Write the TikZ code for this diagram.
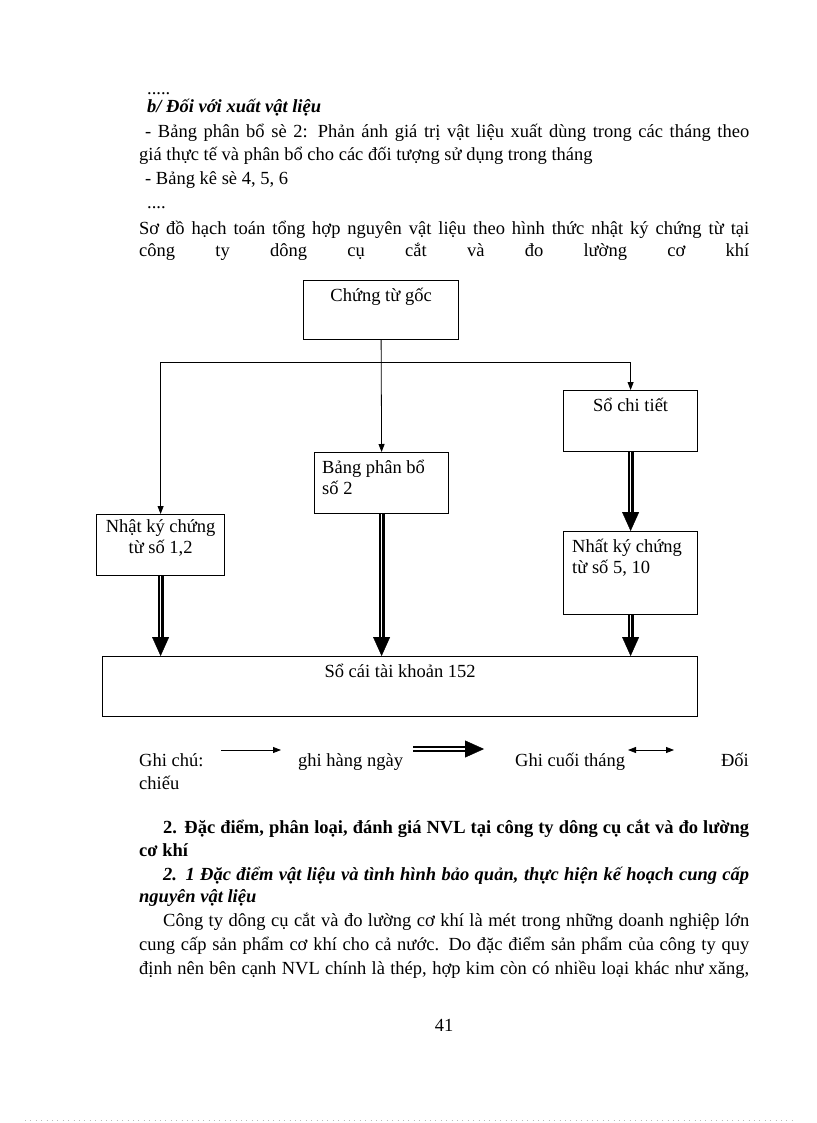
\documentclass[tikz,border=0pt]{standalone}
\usepackage{fontspec}
\setmainfont{Liberation Serif}
\usetikzlibrary{arrows.meta}
\newcommand\jl[2]{\hbox to #1pt{\spaceskip=.25em plus 1fil minus .12em #2}}
\newcommand\thickarrow[2]{%
  \draw[shaft] (#1) -- (#2);
  \draw[headonly] (#1) -- (#2);}
\begin{document}
\begin{tikzpicture}[x=1pt,y=-1pt,
  every node/.style={font=\fontsize{18.5}{21}\selectfont, inner sep=0pt},
  txt/.style={anchor=west, text height=13pt, text depth=4pt},
  box/.style={draw, line width=1.2pt, anchor=north west},
  boxtext/.style={align=left},
  thinarr/.style={line width=0.8pt, -{Triangle[length=8pt,width=6pt]}},
  bothhead/.style={line width=0.8pt, {Triangle[length=8pt,width=6pt]}-{Triangle[length=8pt,width=6pt]}},
  shaft/.style={line width=2.3pt, double distance=1.5pt, shorten >=18pt},
  headonly/.style={draw=white, line width=0.4pt, -{Triangle[length=19pt,width=17pt,color=black,fill=black]}}
]
\useasboundingbox (0,0) rectangle (816,1123);
\fill[white] (0,0) rectangle (816,1123);

% ---------- top text ----------
\node[txt] (t1) at (147,90) {.....};
\node[txt] (t2) at (147,108) {\bfseries\itshape b/ Đối với xuất vật liệu};
\node[txt] (t3) at (145,133) {\jl{604}{- Bảng phân bổ sè 2: Phản ánh giá trị vật liệu xuất dùng trong các tháng theo}};
\node[txt] (t4) at (139,156) {giá thực tế và phân bổ cho các đối tượng sử dụng trong tháng};
\node[txt] (t5) at (145,180) {- Bảng kê sè 4, 5, 6};
\node[txt] (t6) at (147,204) {....};
\node[txt] (t7) at (139,230) {\jl{610}{Sơ đồ hạch toán tổng hợp nguyên vật liệu theo hình thức nhật ký chứng từ tại}};
\node[txt] (t8) at (139,252) {\jl{610}{công ty dông cụ cắt và đo lường cơ khí}};

% ---------- diagram ----------
\node[box, minimum width=155pt, minimum height=59pt] (cg) at (303,280) {};
\node[anchor=north] (cgt) at ([yshift=-8pt]cg.north) {Chứng từ gốc};

\node[box, minimum width=134pt, minimum height=61pt] (sct) at (563,390) {};
\node[anchor=north] (sctt) at ([yshift=-8pt]sct.north) {Sổ chi tiết};

\node[box, minimum width=134pt, minimum height=61pt] (bp) at (314,452) {};
\node[boxtext, anchor=north west] (bpt) at ([xshift=8pt,yshift=-8pt]bp.north west) {Bảng phân bổ\\số 2};

\node[box, minimum width=128pt, minimum height=61pt] (nk12) at (96,514) {};
\node[align=center, anchor=north] (nk12t) at ([yshift=-5pt]nk12.north) {Nhật ký chứng\\từ số 1,2};

\node[box, minimum width=134pt, minimum height=83pt] (nk510) at (563,531) {};
\node[boxtext, anchor=north west] (nk510t) at ([xshift=9pt,yshift=-8pt]nk510.north west) {Nhất ký chứng\\từ số 5, 10};

\node[box, minimum width=595pt, minimum height=60pt] (sc) at (102,656) {};
\node[anchor=north] (sct2) at ([yshift=-8pt]sc.north) {Sổ cái tài khoản 152};

\coordinate (hy) at (0,362);
\draw[thinarr] (cg.south) -- (bp.north);
\draw[thinarr] (cg.south |- hy) -| (nk12.north);
\draw[thinarr] (cg.south |- hy) -| (sct.north);

\thickarrow{nk12.south}{nk12.south |- sc.north}
\thickarrow{bp.south}{bp.south |- sc.north}
\thickarrow{sct.south}{nk510.north}
\thickarrow{nk510.south}{nk510.south |- sc.north}

% ---------- legend ----------
\node[txt] (g1) at (139,762) {Ghi chú:};
\coordinate (la1) at (221,750);
\coordinate (la2) at (281,750);
\draw[thinarr] (la1) -- (la2);
\node[txt] (g2) at (298,762) {ghi hàng ngày};
\coordinate (lb1) at (413,749);
\coordinate (lb2) at (484,749);
\thickarrow{lb1}{lb2}
\node[txt] (g3) at (515,762) {Ghi cuối tháng};
\coordinate (lc1) at (628,750);
\coordinate (lc2) at (674,750);
\draw[bothhead] (lc1) -- (lc2);
\node[txt, anchor=east] (g4) at (749,762) {Đối};
\node[txt] (g5) at (139,785) {chiếu};

% ---------- bottom text ----------
\node[txt] (b1) at (163,829) {\bfseries\jl{586}{2. Đặc điểm, phân loại, đánh giá NVL tại công ty dông cụ cắt và đo lường}};
\node[txt] (b2) at (139,852) {\bfseries cơ khí};
\node[txt] (b3) at (163,876) {\bfseries\itshape\jl{586}{2. 1 Đặc điểm vật liệu và tình hình bảo quản, thực hiện kế hoạch cung cấp}};
\node[txt] (b4) at (139,898) {\bfseries\itshape nguyên vật liệu};
\node[txt] (b5) at (163,922) {\jl{586}{Công ty dông cụ cắt và đo lường cơ khí là mét trong những doanh nghiệp lớn}};
\node[txt] (b6) at (139,946) {\jl{610}{cung cấp sản phẩm cơ khí cho cả nước. Do đặc điểm sản phẩm của công ty quy}};
\node[txt] (b7) at (139,970) {\jl{610}{định nên bên cạnh NVL chính là thép, hợp kim còn có nhiều loại khác như xăng,}};
\node (pg) at (444,1025) {41};

\draw[gray!55, line width=0.7pt, dash pattern=on 0.8pt off 4.6pt] (25,1120) -- (795,1120);
\end{tikzpicture}
\end{document}
